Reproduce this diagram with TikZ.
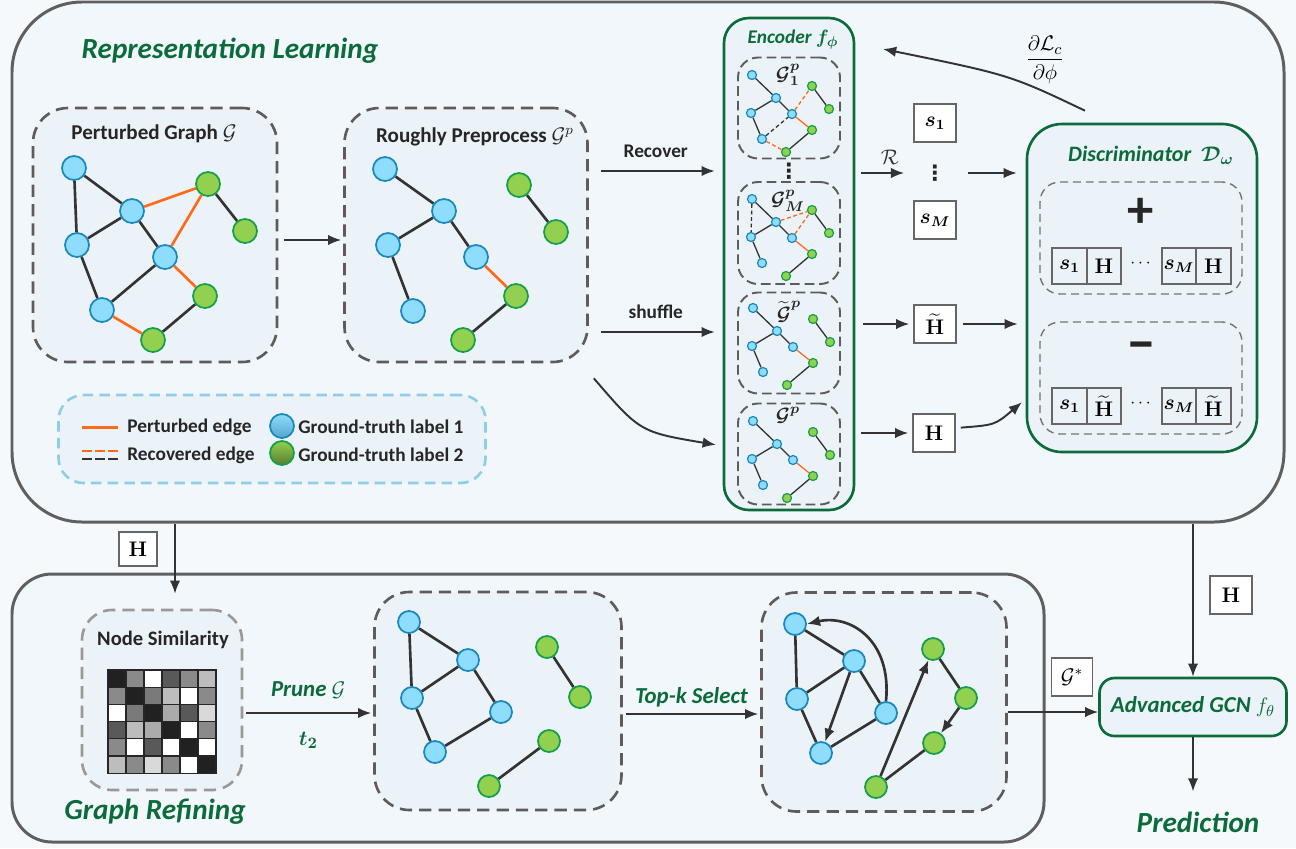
\documentclass[tikz,border=0pt]{standalone}
\usepackage{amsmath}
\usepackage{amssymb}
\usepackage{bm}
\usepackage[no-math]{fontspec}
\setmainfont{Carlito}
\newfontfamily\symfont{DejaVu Sans}
\usepackage{tikz}
\usetikzlibrary{positioning, fit, calc, arrows.meta}

\newlength{\px}
\setlength{\px}{0.2mm}

\definecolor{bgc}{HTML}{F6F9FC}
\definecolor{pfill}{HTML}{F2F7FB}
\definecolor{bfill}{HTML}{ECF3F8}
\definecolor{pbord}{HTML}{5F5F5F}
\definecolor{dgray}{HTML}{5C5C5C}
\definecolor{dgreen}{HTML}{0B6B3A}
\definecolor{nblue}{HTML}{8FDDFC}
\definecolor{bblue}{HTML}{1A88BA}
\definecolor{ngreen}{HTML}{92D050}
\definecolor{bgreen}{HTML}{14A04A}
\definecolor{orng}{HTML}{FF6A1A}
\definecolor{eline}{HTML}{333333}
\definecolor{lblue}{HTML}{8DCFE8}
\definecolor{tblack}{HTML}{262626}

\tikzstyle{panel}=[draw=pbord, line width=1.7pt, fill=pfill, inner sep=0pt]
\tikzstyle{dbox}=[draw=dgray, line width=1.5pt, dash pattern=on 7pt off 4pt, fill=bfill, rounded corners=7mm, inner sep=0pt]
\tikzstyle{sbox}=[draw=dgray, line width=1.1pt, dash pattern=on 5.5pt off 2.8pt, fill=bfill, rounded corners=4mm, inner sep=0pt]
\tikzstyle{tbox}=[draw=dgray!85, line width=0.8pt, dash pattern=on 4.5pt off 2.8pt, rounded corners=4mm, inner sep=0pt]
\tikzstyle{gbox}=[draw=dgreen, line width=1.5pt, fill=bfill, inner sep=0pt]
\tikzstyle{bn}=[circle, draw=bblue, fill=nblue, line width=1pt, minimum size=24\px, inner sep=0pt]
\tikzstyle{gn}=[circle, draw=bgreen, fill=ngreen, line width=1pt, minimum size=24\px, inner sep=0pt]
\tikzstyle{sbn}=[bn, minimum size=9\px, line width=0.7pt]
\tikzstyle{sgn}=[gn, minimum size=9\px, line width=0.7pt]
\tikzstyle{edg}=[color=eline, line width=1.5pt]
\tikzstyle{pedg}=[color=orng, line width=1.5pt]
\tikzstyle{sedg}=[color=eline, line width=0.75pt]
\tikzstyle{spedg}=[color=orng, line width=0.75pt]
\tikzstyle{sdash}=[dash pattern=on 2.2pt off 1.5pt]
\tikzstyle{arr}=[->, color=eline, line width=1.1pt]
\tikzstyle{vbox}=[draw=black!60, line width=0.9pt, fill=white, minimum width=42\px, minimum height=38\px, inner sep=0pt, font=\fontsize{11.5}{13}\selectfont]
\tikzstyle{cell}=[draw=black!60, line width=0.9pt, minimum width=34.5\px, minimum height=36\px, inner sep=0pt, font=\fontsize{11.5}{13}\selectfont]
\tikzstyle{mcell}=[draw=black!85, line width=0.6pt, minimum width=18\px, minimum height=17.2\px, inner sep=0pt]
\tikzstyle{ttl}=[font=\fontsize{16.6}{19}\selectfont\bfseries\itshape, text=dgreen]
\tikzstyle{gtl}=[font=\fontsize{11}{13}\selectfont\bfseries\itshape, text=dgreen]
\tikzstyle{rtl}=[font=\fontsize{13}{15}\selectfont\bfseries\itshape, text=dgreen]
\tikzstyle{btl}=[font=\fontsize{12}{14}\selectfont\bfseries, text=tblack]
\tikzstyle{lbl}=[font=\fontsize{11}{13}\selectfont\bfseries, text=tblack]
\tikzstyle{glab}=[font=\fontsize{11}{13}\selectfont, text=tblack]
\tikzstyle{vdot}=[font=\fontsize{12}{12}\selectfont\symfont\bfseries, text=tblack, inner sep=0pt]

\begin{document}
\begin{tikzpicture}[x=0.2mm, y=-0.2mm, >={Latex[length=7.5pt, width=6pt]}]
    \fill[bgc] (0,0) rectangle (1296,848);
    \useasboundingbox (0,0) rectangle (1296,848);

    % panels
    \node[panel, rounded corners=14mm, minimum width=1272\px, minimum height=520\px] (rl) at (648,262) {};
    \node[panel, rounded corners=8mm, minimum width=1032\px, minimum height=268\px] (gr) at (528,708) {};
    \node[ttl] (rlt) at (230,51) {Representation Learning};
    \node[ttl] (grt) at (155,812) {Graph Refining};

    % perturbed graph
    \node[dbox, minimum width=244\px, minimum height=254\px] (pg) at (155,235) {};
    \node[btl] (pgt) at (154,134) {Perturbed Graph $\mathcal{G}$};
    \foreach \n/\x/\y in {1/74/168, 2/132/211, 3/77/245, 4/165/257, 5/102/310}
        \node[bn] (p\n) at (\x,\y) {};
    \foreach \n/\x/\y in {6/208/184, 7/245/231, 8/205/296, 9/153/340}
        \node[gn] (p\n) at (\x,\y) {};
    \path[edg] (p1) edge (p2) (p1) edge (p3) (p2) edge (p3) (p2) edge (p4)
        (p3) edge (p5) (p5) edge (p4) (p6) edge (p7) (p8) edge (p9);
    \path[pedg] (p2) edge (p6) (p4) edge (p6) (p4) edge (p8) (p5) edge (p9);

    % roughly preprocessed graph
    \node[dbox, minimum width=243\px, minimum height=254\px] (rp) at (466,235) {};
    \node[btl] (rpt) at (475,137) {Roughly Preprocess $\mathcal{G}^p$};
    \foreach \n/\x/\y in {1/385/169, 2/444/211, 3/388/245, 4/476/257, 5/413/311}
        \node[bn] (r\n) at (\x,\y) {};
    \foreach \n/\x/\y in {6/519/185, 7/556/232, 8/516/296, 9/463/340}
        \node[gn] (r\n) at (\x,\y) {};
    \path[edg] (r1) edge (r2) (r2) edge (r3) (r3) edge (r5) (r2) edge (r4)
        (r6) edge (r7) (r8) edge (r9);
    \path[pedg] (r4) edge (r8);

    \draw[arr, shorten <=6\px, shorten >=2\px] ([yshift=-5\px]pg.east) -- ([yshift=-5\px]pg.east -| rp.west);

    % encoder
    \node[gbox, rounded corners=5mm, minimum width=130\px, minimum height=492\px] (enc) at (789,264) {};
    \node[gtl] (enct) at (793,40) {Encoder $\bm{f_\phi}$};
    \node[sbox, minimum width=102\px, minimum height=101\px] (ga) at (789,108) {};
    \node[sbox, minimum width=102\px, minimum height=102\px] (gm) at (789,233) {};
    \node[sbox, minimum width=102\px, minimum height=101\px] (gt) at (789,343) {};
    \node[sbox, minimum width=102\px, minimum height=101\px] (gq) at (789,454) {};
    \node[vdot] (edots) at (789,171) {⋮};
    \foreach \g/\ox/\oy in {a/752/75, m/752/199, t/753/308, u/753/421} {
        \foreach \n/\x/\y in {1/0/0, 2/24/23, 3/-1/38, 4/40/39, 5/10/64}
            \node[sbn] (\g\n) at (\ox+\x,\oy+\y) {};
        \foreach \n/\x/\y in {6/60/11, 7/77/34, 8/60/55, 9/34/77}
            \node[sgn] (\g\n) at (\ox+\x,\oy+\y) {};
    }
    \node[glab] (a0) at (788,75) {$\bm{\mathcal{G}_1^p}$};
    \node[glab] (m0) at (788,201) {$\bm{\mathcal{G}_M^p}$};
    \node[glab] (t0) at (789,312) {$\bm{\widetilde{\mathcal{G}}^p}$};
    \node[glab] (u0) at (788,415) {$\bm{\mathcal{G}^p}$};
    \path[sedg] (a1) edge (a2) (a2) edge (a3) (a3) edge (a5) (a2) edge (a4) (a6) edge (a7) (a8) edge (a9);
    \path[sedg, sdash] (a5) edge (a4);
    \path[spedg] (a4) edge (a8);
    \path[spedg, sdash] (a4) edge (a6) (a5) edge (a9);
    \path[sedg] (m1) edge (m2) (m2) edge (m3) (m2) edge (m4) (m3) edge (m5) (m6) edge (m7) (m8) edge (m9);
    \path[sedg, sdash] (m1) edge (m3);
    \path[spedg] (m4) edge (m8);
    \path[spedg, sdash] (m2) edge (m6) (m4) edge (m6);
    \path[sedg] (t1) edge (t2) (t2) edge (t3) (t3) edge (t5) (t2) edge (t4) (t6) edge (t7) (t8) edge (t9);
    \path[spedg] (t4) edge (t8);
    \path[sedg] (u1) edge (u2) (u2) edge (u3) (u3) edge (u5) (u2) edge (u4) (u6) edge (u7) (u8) edge (u9);
    \path[spedg] (u4) edge (u8);

    % into the encoder
    \draw[arr, shorten <=12\px, shorten >=8\px] (rp.east |- edots) -- (enc.west |- edots)
        node[midway, yshift=20\px, lbl] (rec) {Recover};
    \draw[arr, shorten <=12\px, shorten >=8\px] ([yshift=11\px]rp.east |- gt) -- ([yshift=11\px]enc.west |- gt)
        node[midway, yshift=20\px, lbl] (shf) {shuffle};
    \draw[arr, shorten >=7\px] ([shift={(5,15)}]rp.south east) .. controls (640,432) .. ([yshift=8\px]enc.west |- gq);

    % summaries and embeddings
    \node[vbox] (s1) at (935,123) {$\bm{s_1}$};
    \node[vdot] (vd) at (935,173) {⋮};
    \node[vbox] (sm) at (935,220) {$\bm{s_M}$};
    \node[vbox] (ht) at (935,324) {$\widetilde{\mathbf{H}}$};
    \node[vbox] (hb) at (934,433) {$\mathbf{H}$};

    % discriminator
    \node[gbox, rounded corners=7mm, minimum width=230\px, minimum height=328\px] (disc) at (1142,288) {};
    \node[gtl, font=\fontsize{12.5}{14}\selectfont\bfseries\itshape] (disct) at (1151,155) {Discriminator~ $\bm{\mathcal{D}_\omega}$};
    \node[tbox, minimum width=202\px, minimum height=112\px] (pb) at (1141,238) {};
    \node[tbox, minimum width=202\px, minimum height=112\px] (mb) at (1141,378) {};
    \node[font=\fontsize{30}{30}\selectfont\bfseries, text=tblack] (plus) at (1141,213) {+};
    \node[font=\fontsize{34}{34}\selectfont\bfseries, text=tblack] (minus) at (1141,352) {--};
    \node[cell] (c1) at (1069.5,266) {$\bm{s_1}$};
    \node[cell] (c2) at (1104,266) {$\mathbf{H}$};
    \node (c3) at (1142,264) {$\cdots$};
    \node[cell] (c4) at (1179,266) {$\bm{s_M}$};
    \node[cell] (c5) at (1213.5,266) {$\mathbf{H}$};
    \node[cell] (d1) at (1069.5,406) {$\bm{s_1}$};
    \node[cell] (d2) at (1104,406) {$\widetilde{\mathbf{H}}$};
    \node (d3) at (1142,404) {$\cdots$};
    \node[cell] (d4) at (1179,406) {$\bm{s_M}$};
    \node[cell] (d5) at (1213.5,406) {$\widetilde{\mathbf{H}}$};

    \draw[arr, shorten <=6\px, shorten >=20\px] (enc.east |- vd) -- (vd.west)
        node[midway, yshift=16\px, font=\fontsize{12}{14}\selectfont] (rr) {$\mathcal{R}$};
    \draw[arr, shorten <=22\px, shorten >=9\px] (vd.east) -- (disc.west |- vd);
    \draw[arr, shorten <=8\px, shorten >=4\px] (enc.east |- ht) -- (ht.west);
    \draw[arr, shorten <=6\px, shorten >=8\px] (ht.east) -- (disc.west |- ht);
    \draw[arr, shorten <=6\px, shorten >=4\px] (enc.east |- hb) -- (hb.west);
    \draw[arr, shorten <=5\px, shorten >=5\px] ([yshift=5\px]hb.east) .. controls (995,425) .. ([yshift=-21\px]disc.west |- mb);

    % gradient back to the encoder
    \coordinate (gtip) at (883,49);
    \draw[arr] ([xshift=-57\px, yshift=12\px]disc.north) .. controls (1010,75) .. (gtip);
    \node[font=\fontsize{13}{15}\selectfont] (grad) at (1045,60) {$\dfrac{\partial\mathcal{L}_c}{\partial\phi}$};

    % legend
    \node[draw=lblue, line width=1.5pt, dash pattern=on 6pt off 3.5pt, fill=bfill, rounded corners=5mm,
        minimum width=427\px, minimum height=88\px] (lg) at (272,439) {};
    \coordinate (la) at (82,427);
    \coordinate (lb) at (118,427);
    \coordinate (lc) at (82,451);
    \coordinate (ld) at (118,451);
    \coordinate (le) at (82,459);
    \coordinate (lf) at (118,459);
    \draw[pedg, line width=1.7pt] (la) -- (lb);
    \draw[color=orng, line width=1.6pt, dash pattern=on 5.7pt off 1.7pt] (lc) -- (ld);
    \draw[color=eline, line width=1.6pt, dash pattern=on 5.7pt off 1.7pt] (le) -- (lf);
    \node[lbl, anchor=west, inner sep=0pt] (l1) at (127,427) {Perturbed edge};
    \node[lbl, anchor=west, inner sep=0pt] (l2) at (127,455) {Recovered edge};
    \node[circle, draw=bblue, line width=1pt, top color=nblue, bottom color=bblue!75, minimum size=24\px, inner sep=0pt] (l3) at (282,426) {};
    \node[circle, draw=bgreen, line width=1pt, top color=ngreen, bottom color=ngreen!60!black, minimum size=24\px, inner sep=0pt] (l4) at (282,453) {};
    \node[lbl, anchor=west, inner sep=0pt] (l5) at (298,427) {Ground-truth label 1};
    \node[lbl, anchor=west, inner sep=0pt] (l6) at (298,455) {Ground-truth label 2};

    % graph refining
    \node[vbox, minimum width=38\px, minimum height=34\px] (hl) at (138,549) {$\mathbf{H}$};
    \node[dbox, draw=gray!80, minimum width=160\px, minimum height=180\px, rounded corners=6mm] (ns) at (162,700) {};
    \node[lbl, font=\fontsize{11.7}{13}\selectfont\bfseries] (nst) at (163,640) {Node Similarity};
    \foreach \row [count=\i] in {{87,46,0,65,46,26}, {46,87,52,26,0,46}, {0,52,87,33,65,15},
                                 {65,26,33,87,0,46}, {46,0,65,0,87,0}, {26,46,15,46,0,87}}
        \foreach \v [count=\j] in \row
            \node[mcell, fill=black!\v] (x\i\j) at ({99+18*\j},{661.4+17.2*\i}) {};
    \draw[arr, shorten >=15\px] ([xshift=13\px]ns.north |- rl.south) -- ([xshift=13\px]ns.north);

    \node[dbox, minimum width=247\px, minimum height=218\px] (pr) at (498,701) {};
    \foreach \n/\x/\y in {1/409/622, 2/468/660, 3/412/698, 4/501/712, 5/435/752}
        \node[bn, minimum size=22\px] (q\n) at (\x,\y) {};
    \foreach \n/\x/\y in {6/547/647, 7/580/697, 8/549/741, 9/489/786}
        \node[gn, minimum size=22\px] (q\n) at (\x,\y) {};
    \path[edg] (q1) edge (q2) (q1) edge (q3) (q2) edge (q3) (q2) edge (q4)
        (q3) edge (q5) (q5) edge (q4) (q6) edge (q7) (q8) edge (q9);

    \node[dbox, minimum width=245\px, minimum height=219\px] (tk) at (884,702) {};
    \foreach \n/\x/\y in {1/795/624, 2/854/661, 3/797/699, 4/886/713, 5/821/753}
        \node[bn, minimum size=22\px] (k\n) at (\x,\y) {};
    \foreach \n/\x/\y in {6/933/649, 7/966/698, 8/934/743, 9/876/787}
        \node[gn, minimum size=22\px] (k\n) at (\x,\y) {};
    \path[edg] (k1) edge (k2) (k1) edge (k3) (k2) edge (k3) (k2) edge (k4)
        (k3) edge (k5) (k5) edge (k4) (k6) edge (k7) (k9) edge (k8);
    \path[edg, ->] (k2) edge (k5) (k7) edge (k8) (k9) edge (k6);
    \draw[edg, ->] (k4.north) .. controls (892,640) and (850,614) .. (k1.east);

    \draw[arr, shorten <=3\px, shorten >=2\px] ([yshift=-13\px]ns.east) -- ([yshift=-13\px]ns.east -| pr.west)
        node[midway, yshift=23\px, rtl] (prl) {Prune $\mathcal{G}$}
        node[midway, yshift=-27\px, rtl] (t2l) {$\bm{t_2}$};
    \draw[arr, shorten <=3\px, shorten >=2\px] ([yshift=-13\px]pr.east) -- ([yshift=-13\px]pr.east -| tk.west)
        node[midway, yshift=17\px, rtl] (tkl) {Top-k Select};

    % final classifier
    \node[gbox, rounded corners=3mm, minimum width=187\px, minimum height=58\px,
        font=\fontsize{13}{15}\selectfont\bfseries\itshape, text=dgreen] (gcn) at (1193,707) {Advanced GCN $f_\theta$};
    \node[vbox, minimum width=41\px] (gs) at (1072,677) {$\mathcal{G}^*$};
    \node[vbox] (hr) at (1231,595) {$\mathbf{H}$};
    \node[ttl] (pred) at (1198,822) {Prediction};
    \draw[arr] ([yshift=-10\px]tk.east) -- ([yshift=-10\px]tk.east -| gcn.west);
    \draw[arr] (gcn.north |- rl.south) -- (gcn.north);
    \draw[arr, shorten >=14\px] (gcn.south) -- (gcn.south |- pred.north);

\end{tikzpicture}
\end{document}
